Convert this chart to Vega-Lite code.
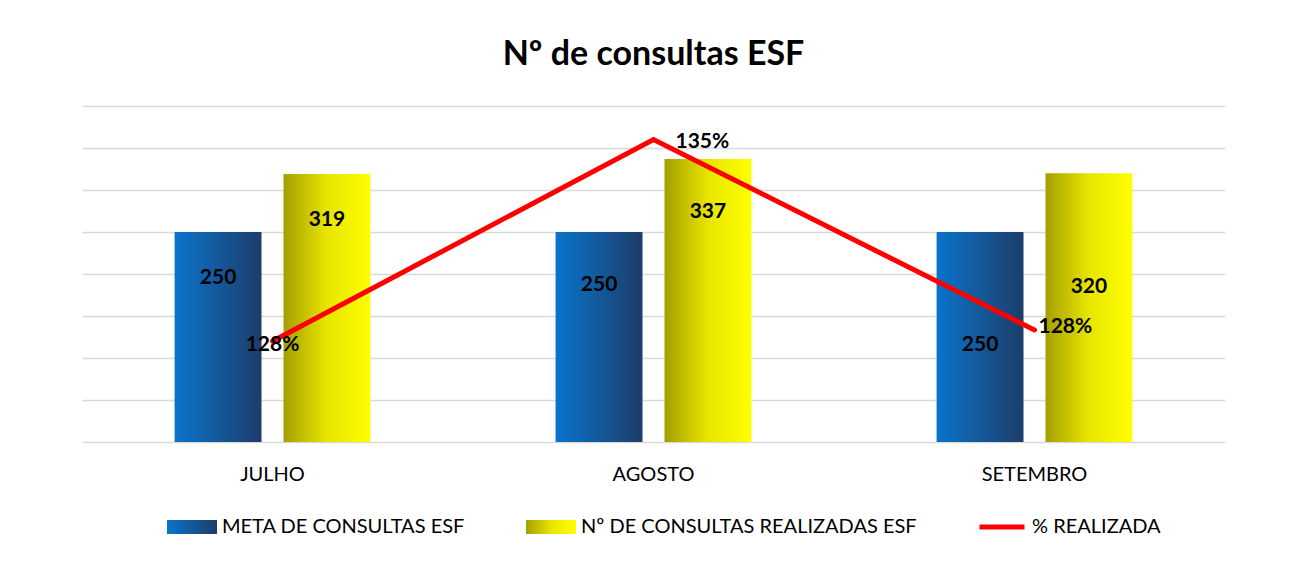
{
  "$schema": "https://vega.github.io/schema/vega-lite/v6.json",
  "width": 1143,
  "height": 336,
  "autosize": {"type": "none"},
  "padding": {"left": 82, "top": 106, "right": 88, "bottom": 120},
  "background": "white",
  "title": {"text": "Nº de consultas ESF", "fontSize": 34, "font": "Lato", "fontWeight": "bold", "color": "#000000", "anchor": "middle", "offset": 34},
  "datasets": {
    "barras": [
      {"mes": "JULHO", "serie": "META DE CONSULTAS ESF", "valor": 250},
      {"mes": "JULHO", "serie": "Nº DE CONSULTAS REALIZADAS ESF", "valor": 319},
      {"mes": "AGOSTO", "serie": "META DE CONSULTAS ESF", "valor": 250},
      {"mes": "AGOSTO", "serie": "Nº DE CONSULTAS REALIZADAS ESF", "valor": 337},
      {"mes": "SETEMBRO", "serie": "META DE CONSULTAS ESF", "valor": 250},
      {"mes": "SETEMBRO", "serie": "Nº DE CONSULTAS REALIZADAS ESF", "valor": 320}
    ],
    "pct": [
      {"mes": "JULHO", "serie": "% REALIZADA", "pct": 1.276},
      {"mes": "AGOSTO", "serie": "% REALIZADA", "pct": 1.348},
      {"mes": "SETEMBRO", "serie": "% REALIZADA", "pct": 1.28}
    ]
  },
  "layer": [
    {
      "data": {"name": "barras"},
      "transform": [{"calculate": "datum.mes === 'SETEMBRO' ? datum.valor - 135 : (datum.mes === 'AGOSTO' ? datum.valor - 63 : datum.valor - 55)", "as": "pos_rotulo"}],
      "encoding": {
        "x": {
          "field": "mes", "type": "nominal", "sort": ["JULHO", "AGOSTO", "SETEMBRO"],
          "scale": {"paddingInner": 0.486, "paddingOuter": 0.243},
          "axis": {"title": null, "labelFontSize": 20, "labelFont": "Lato", "labelColor": "#000000", "labelPadding": 22, "ticks": false, "domain": false, "labelAngle": 0}
        },
        "xOffset": {
          "field": "serie", "type": "nominal",
          "scale": {"domain": ["META DE CONSULTAS ESF", "Nº DE CONSULTAS REALIZADAS ESF"], "paddingInner": 0.2018, "paddingOuter": 0}
        }
      },
      "layer": [
        {
          "mark": {"type": "bar"},
          "encoding": {
            "y": {
              "field": "valor", "type": "quantitative", "scale": {"domain": [0, 400]},
              "axis": {"title": null, "labels": false, "ticks": false, "domain": false, "values": [0, 50, 100, 150, 200, 250, 300, 350, 400], "gridColor": "#d9d9d9", "gridWidth": 1.5}
            },
            "color": {
              "condition": {
                "test": "datum.serie === 'META DE CONSULTAS ESF'",
                "value": {"gradient": "linear", "x1": 0, "y1": 0, "x2": 1, "y2": 0, "stops": [{"offset": 0, "color": "#0a74cc"}, {"offset": 1, "color": "#1d3d69"}]}
              },
              "value": {"gradient": "linear", "x1": 0, "y1": 0, "x2": 1, "y2": 0, "stops": [{"offset": 0, "color": "#a59f00"}, {"offset": 0.5, "color": "#e8e500"}, {"offset": 1, "color": "#ffff00"}]}
            }
          }
        },
        {
          "mark": {"type": "text", "font": "Lato", "fontWeight": "bold", "fontSize": 21, "color": "#000000"},
          "encoding": {
            "y": {"field": "pos_rotulo", "type": "quantitative"},
            "text": {"field": "valor", "type": "quantitative"}
          }
        }
      ]
    },
    {
      "data": {"name": "pct"},
      "encoding": {
        "x": {"field": "mes", "type": "nominal", "sort": ["JULHO", "AGOSTO", "SETEMBRO"]},
        "y": {"field": "pct", "type": "quantitative", "scale": {"domain": [1.24, 1.36]}, "axis": null}
      },
      "layer": [
        {
          "mark": {"type": "line", "strokeWidth": 5, "strokeCap": "round"},
          "encoding": {
            "color": {
              "field": "serie", "type": "nominal",
              "scale": {"domain": ["META DE CONSULTAS ESF", "Nº DE CONSULTAS REALIZADAS ESF", "% REALIZADA"], "range": ["#0a74cc", "#e8e500", "#ff0000"]},
              "legend": {
                "orient": "none", "legendX": 85, "legendY": 396, "direction": "horizontal", "title": null,
                "labelFontSize": 20, "labelFont": "Lato", "labelColor": "#000000", "labelLimit": 0,
                "symbolType": "M-1,-0.28L1,-0.28L1,0.28L-1,0.28Z", "symbolSize": 2500, "symbolStrokeWidth": 0,
                "columnPadding": 60, "labelOffset": 5,
                "encode": {
                  "symbols": {
                    "update": {
                      "shape": {"signal": "datum.value === '% REALIZADA' ? 'M-0.9,-0.1L0.9,-0.1L0.9,0.1L-0.9,0.1Z' : 'M-1,-0.28L1,-0.28L1,0.28L-1,0.28Z'"},
                      "fill": {"signal": "datum.value === 'META DE CONSULTAS ESF' ? {gradient: 'linear', x1: 0, y1: 0, x2: 1, y2: 0, stops: [{offset: 0, color: '#0a74cc'}, {offset: 1, color: '#1d3d69'}]} : datum.value === '% REALIZADA' ? '#ff0000' : {gradient: 'linear', x1: 0, y1: 0, x2: 1, y2: 0, stops: [{offset: 0, color: '#a59f00'}, {offset: 0.5, color: '#e8e500'}, {offset: 1, color: '#ffff00'}]}"},
                      "stroke": {"value": "transparent"},
                      "strokeWidth": {"value": 0},
                      "opacity": {"value": 1}
                    }
                  }
                }
              }
            }
          }
        },
        {
          "transform": [{"filter": "datum.mes === 'JULHO'"}],
          "mark": {"type": "text", "font": "Lato", "fontWeight": "bold", "fontSize": 21, "color": "#000000", "align": "center", "dy": 4},
          "encoding": {"text": {"field": "pct", "type": "quantitative", "format": ".0%"}}
        },
        {
          "transform": [{"filter": "datum.mes === 'AGOSTO'"}],
          "mark": {"type": "text", "font": "Lato", "fontWeight": "bold", "fontSize": 21, "color": "#000000", "align": "left", "dx": 22, "dy": 2},
          "encoding": {"text": {"field": "pct", "type": "quantitative", "format": ".0%"}}
        },
        {
          "transform": [{"filter": "datum.mes === 'SETEMBRO'"}],
          "mark": {"type": "text", "font": "Lato", "fontWeight": "bold", "fontSize": 21, "color": "#000000", "align": "left", "dx": 4, "dy": -3},
          "encoding": {"text": {"field": "pct", "type": "quantitative", "format": ".0%"}}
        }
      ]
    }
  ],
  "resolve": {"scale": {"y": "independent"}},
  "config": {"view": {"stroke": null}}
}
